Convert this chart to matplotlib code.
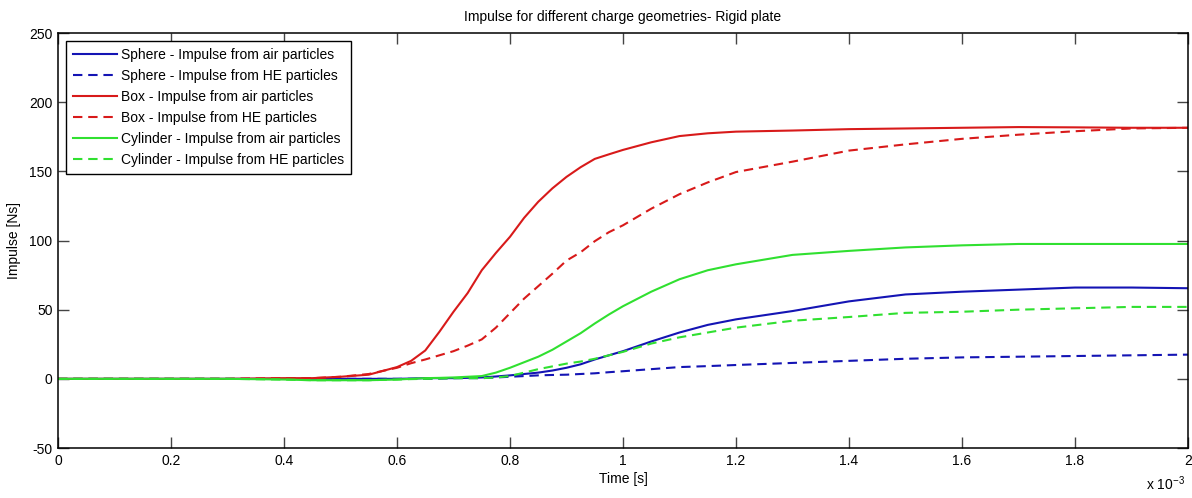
import matplotlib
matplotlib.use("Agg")
import matplotlib.pyplot as plt
from matplotlib.ticker import FixedLocator, FuncFormatter

# Time samples in milliseconds (converted to seconds for plotting)
t_ms = [0, 0.3, 0.4, 0.45, 0.5, 0.55, 0.6,
        0.625, 0.65, 0.675, 0.7, 0.725, 0.75, 0.775, 0.8,
        0.825, 0.85, 0.875, 0.9, 0.925, 0.95, 0.975, 1.0,
        1.05, 1.1, 1.15, 1.2, 1.3, 1.4, 1.5, 1.6, 1.7, 1.8, 1.9, 2.0]

sphere_air = [0, 0, 0, 0, 0, 0, 0,
              0.2, 0.5, 0.5, 0.5, 0.7, 1, 1.7, 2.5,
              3.5, 4.5, 6, 8, 10.5, 14, 17, 20,
              27, 33.5, 39, 43, 49, 56, 61, 63, 64.5, 66, 66, 65.5]
sphere_he = [0, 0, 0, 0, 0, 0, 0,
             0, 0, 0.2, 0.5, 0.5, 0.5, 1, 1.5,
             2, 2.5, 2.8, 3, 3.5, 4, 4.8, 5.5,
             7, 8.5, 9.2, 10, 11.5, 13, 14.5, 15.5, 16, 16.5, 17, 17.5]
box_air = [0, 0, 0.5, 0.5, 1.5, 3, 8.5,
           13, 20.5, 34, 48.5, 62, 78.5, 91, 102.7,
           116.4, 128, 137.7, 146, 153, 159, 162.3, 165.5,
           171, 175.5, 177.5, 178.7, 179.5, 180.5, 181, 181.5, 182, 181.8, 181.5, 181.5]
box_he = [0, 0, 0.5, 0.5, 1.5, 3.5, 8,
          11.3, 14, 17, 20, 24, 28.5, 37, 47.5,
          58, 67, 76, 85.5, 91.5, 99.5, 106, 111,
          123, 133.5, 142, 149.5, 157, 165, 169.5, 173.5, 176.5, 179, 181, 181.5]
cylinder_air = [0, 0, -0.5, -1, -1, -1, -0.5,
                0, 0.5, 0.7, 1, 1.5, 2, 4.5, 8,
                12, 16, 21, 27, 33, 40, 46.5, 52.5,
                63, 72, 78.5, 82.8, 89.6, 92.5, 95, 96.5, 97.5, 97.5, 97.5, 97.5]
cylinder_he = [0, 0, -0.5, -1, -1, -1, -0.5,
               -0.2, 0, 0.2, 0.5, 0.5, 0.5, 1, 2,
               4.5, 7, 9, 11, 12.5, 14.5, 17, 19.5,
               25.5, 30, 33.5, 37, 42, 44.7, 47.7, 48.5, 50, 51, 52, 52]

labels = [
    "Sphere - Impulse from air particles",
    "Sphere - Impulse from HE particles",
    "Box - Impulse from air particles",
    "Box - Impulse from HE particles",
    "Cylinder - Impulse from air particles",
    "Cylinder - Impulse from HE particles",
]
x_ticks_ms = [0, 0.2, 0.4, 0.6, 0.8, 1.0, 1.2, 1.4, 1.6, 1.8, 2.0]
y_ticks = [-50, 0, 50, 100, 150, 200, 250]

plt.rcParams["font.family"] = ["Liberation Sans", "DejaVu Sans"]
plt.rcParams["font.size"] = 10
plt.rcParams["axes.unicode_minus"] = False

BLUE = "#1414b4"
RED = "#d81a1a"
GREEN = "#30e030"

fig = plt.figure(figsize=(11.92, 4.98), dpi=100)
ax = fig.add_axes([0.0487, 0.1004, 0.9479, 0.8333])

t = [v * 1e-3 for v in t_ms]
series = [sphere_air, sphere_he, box_air, box_he, cylinder_air, cylinder_he]
colors = [BLUE, BLUE, RED, RED, GREEN, GREEN]
styles = ["-", "--", "-", "--", "-", "--"]
for y, c, ls, lab in zip(series, colors, styles, labels):
    kw = dict(dashes=(4.5, 2.8)) if ls == "--" else {}
    ax.plot(t, y, color=c, lw=1.5, linestyle=ls, label=lab, **kw)

ax.set_xlim(0, 2e-3)
ax.set_ylim(-50, 250)
ax.xaxis.set_major_locator(FixedLocator([v * 1e-3 for v in x_ticks_ms]))
ax.xaxis.set_major_formatter(FuncFormatter(lambda v, p: f"{v * 1e3:g}"))
ax.yaxis.set_major_locator(FixedLocator(y_ticks))

ax.tick_params(direction="in", length=8, width=1, color="#444444",
               top=True, right=True, labelsize=10, pad=4)
for sp in ax.spines.values():
    sp.set_linewidth(1.1)
    sp.set_color("black")

ax.set_title("Impulse for different charge geometries- Rigid plate",
             fontsize=10, pad=9)
ax.set_xlabel("Time [s]", fontsize=10, labelpad=3.5)
ax.set_ylabel("Impulse [Ns]", fontsize=10, labelpad=5.5)

ax.text(0.997, -0.063, r"x 10$^{\mathregular{-3}}$", transform=ax.transAxes,
        ha="right", va="top", fontsize=10)

leg = ax.legend(loc="upper left", bbox_to_anchor=(0.007, 0.981),
                borderaxespad=0, fancybox=False, framealpha=1,
                edgecolor="black", handlelength=3.17, handletextpad=0.3,
                labelspacing=0.5, borderpad=0.5, fontsize=10)
leg.get_frame().set_linewidth(1.0)

fig.savefig("out.png", dpi=100)
